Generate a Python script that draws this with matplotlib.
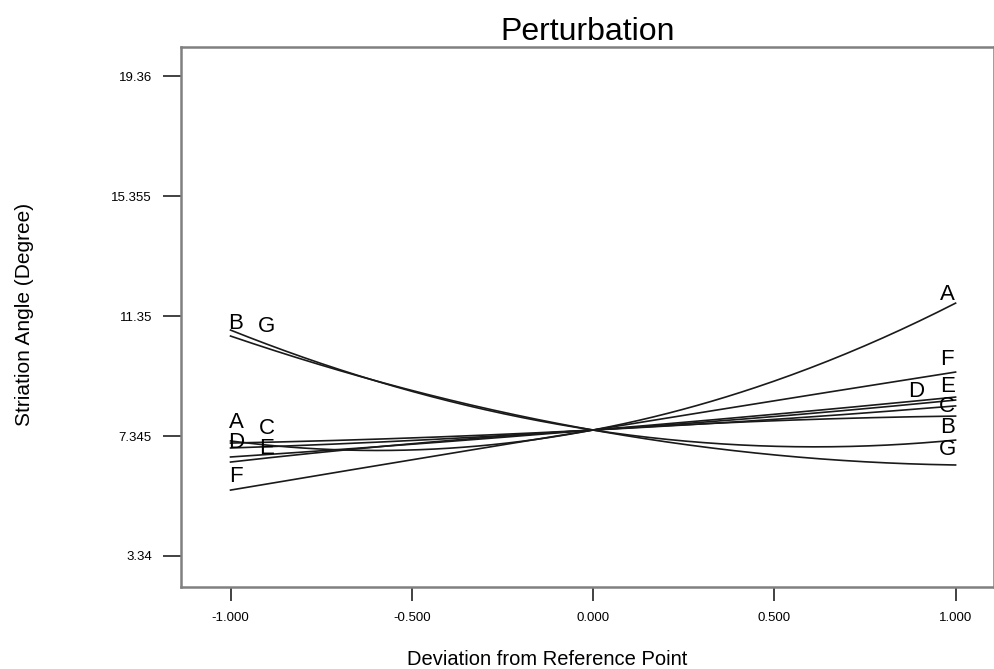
import numpy as np
import matplotlib
matplotlib.use("Agg")
import matplotlib.pyplot as plt

plt.rcParams['font.family'] = ['Liberation Sans', 'DejaVu Sans']

# Deviation from the reference point (coded units)
deviation = [-1.0, -0.5, 0.0, 0.5, 1.0]

# Predicted striation angle (degree) along each factor's perturbation
curve_a = [7.18, 6.88, 7.545, 9.18, 11.78]
curve_b = [10.88, 8.84, 7.545, 7.00, 7.21]
curve_c = [7.11, 7.28, 7.545, 7.90, 8.35]
curve_d = [6.945, 7.195, 7.545, 7.995, 8.545]
curve_e = [6.645, 7.07, 7.545, 8.07, 8.645]
curve_f = [5.54, 6.55, 7.545, 8.52, 9.48]
curve_g = [10.68, 8.87, 7.545, 6.71, 6.38]
curve_h = [6.475, 7.09, 7.545, 7.855, 8.01]

curves = [curve_a, curve_b, curve_c, curve_d, curve_e, curve_f, curve_g, curve_h]

y_ticks = [3.34, 7.345, 11.35, 15.355, 19.36]
y_tick_labels = ["3.34", "7.345", "11.35", "15.355", "19.36"]
x_ticks = [-1.0, -0.5, 0.0, 0.5, 1.0]
x_tick_labels = ["-1.000", "-0.500", "0.000", "0.500", "1.000"]

# Factor letters: (letter, curve index, x where placed, vertical offset in px)
labels_left = [("A", 0, -0.985, 19), ("B", 1, -0.985, 9), ("C", 2, -0.90, 14),
               ("D", 3, -0.985, 5), ("E", 4, -0.90, 6), ("F", 5, -0.985, 13),
               ("G", 6, -0.90, 22)]
labels_right = [("A", 0, 0.977, 13), ("B", 1, 0.977, 13), ("C", 2, 0.977, 0),
                ("D", 3, 0.89, 12), ("E", 4, 0.977, 11), ("F", 5, 0.977, 14),
                ("G", 6, 0.977, 15)]

fig = plt.figure(figsize=(9.95, 6.69), dpi=100)
ax = fig.add_axes([181/995, 1 - 587/669, (994 - 181)/995, (587 - 47)/669])

fits = []
xs = np.linspace(-1, 1, 200)
for ys in curves:
    coef = np.polyfit(deviation, ys, 2)
    fits.append(coef)
    ax.plot(xs, np.polyval(coef, xs), color='#1a1a1a', lw=1.2)

px_to_pt = 72 / 100
for letter, idx, xl, dy in labels_left + labels_right:
    yl = np.polyval(fits[idx], xl)
    ax.annotate(letter, xy=(xl, yl), xytext=(0, dy * px_to_pt),
                textcoords='offset points', ha='center', va='center',
                fontsize=16, color='black')

ax.set_xlim(-1.1366, 1.106)
ax.set_ylim(2.305, 20.33)
ax.set_xticks(x_ticks)
ax.set_xticklabels(x_tick_labels, fontsize=9.5)
ax.set_yticks(y_ticks)
ax.set_yticklabels(y_tick_labels, fontsize=9.5)
ax.tick_params(axis='x', direction='out', length=10, width=1.3, color='#333333', pad=8)
ax.tick_params(axis='y', direction='out', length=13, width=1.3, color='#333333', pad=8)

for sp in ax.spines.values():
    sp.set_color('#808080')
    sp.set_linewidth(1.8)

ax.set_title("Perturbation", fontsize=23, pad=4)
ax.set_xlabel("Deviation from Reference Point", fontsize=14.5, va='center')
ax.xaxis.set_label_coords(0.451, -0.135)
ax.set_ylabel("Striation Angle (Degree)", fontsize=15, va='center')
ax.yaxis.set_label_coords(-0.192, 0.504)

fig.savefig("out.png", dpi=100)
